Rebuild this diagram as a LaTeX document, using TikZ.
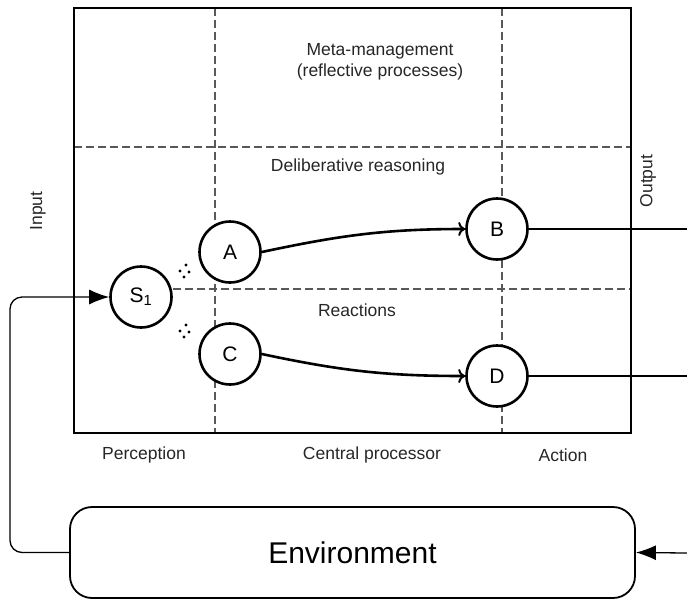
\documentclass[tikz,border=0pt]{standalone}
\usepackage{fontspec}
\setmainfont{Liberation Sans}
\usetikzlibrary{arrows.meta}
\begin{document}
\begin{tikzpicture}[x=1pt,y=-1pt,
  stage/.style={circle, fill=white, draw=black, line width=2.6pt, minimum size=61pt, inner sep=0pt, font=\fontsize{21}{24}\selectfont},
  lbl/.style={font=\fontsize{17.5}{21}\selectfont, text=black!85},
  sep/.style={draw=black!65, line width=1.1pt, dash pattern=on 8pt off 4pt},
  flow/.style={line width=2.6pt, -{To[length=7pt,width=14pt,line width=2pt]}},
  feed/.style={line width=1.3pt}]
\useasboundingbox (0,0) rectangle (687,603);
% frame and layers
\draw[sep] (215,8) -- (215,433);
\draw[sep] (502,8) -- (502,433);
\draw[sep] (74,147) -- (631,147);
\draw[sep] (173,289) -- (631,289);
\draw[line width=1.8pt] (74,8) rectangle (631,433);
\node [lbl, align=center] (meta) at (380,62) {Meta-management\\(reflective processes)};
\node [lbl] (delib) at (358,167) {Deliberative reasoning};
\node [lbl] (react) at (357,310) {Reactions};
\node [lbl] (perc) at (144,455) {Perception};
\node [lbl] (cent) at (372,455) {Central processor};
\node [lbl] (act) at (563,455) {Action};
\node [lbl, rotate=90] (inp) at (38,211) {Input};
\node [lbl, rotate=90] (outp) at (648,181) {Output};
% stages
\node [stage] (S1) at (141,297) {S\textsubscript{1}};
\node [stage] (A) at (230,252) {A};
\node [stage] (B) at (497,229) {B};
\node [stage] (C) at (230,354) {C};
\node [stage] (D) at (497,376) {D};
\foreach \y in {271,331} {
  \fill (186,\y-6) circle (1.6pt);
  \fill (180,\y) circle (1.6pt);
  \fill (189,\y+1) circle (1.6pt);
  \fill (184,\y+6) circle (1.6pt);
}
\draw[flow] (A.east) to[out=12,in=180] (B.west);
\draw[flow] (C.east) to[out=-12,in=180] (D.west);
% environment loop
\node [draw, rounded corners=22pt, line width=1.8pt, minimum width=565pt, minimum height=91pt, font=\fontsize{30}{32}\selectfont] (env) at (352.5,552.5) {Environment};
\coordinate (bout) at (687,229);
\coordinate (dout) at (687,376);
\coordinate (eout) at (687,553);
\coordinate (turn) at (10,297);
\draw[feed] (B.east) -- (bout);
\draw[feed] (D.east) -- (dout);
\draw[feed, rounded corners=12pt, -{Latex[length=20pt,width=15pt]}] (env.west) -| (turn) -- (S1.west);
\draw[feed, -{Latex[length=20pt,width=15pt]}] (eout) -- (env.east);
\end{tikzpicture}
\end{document}
